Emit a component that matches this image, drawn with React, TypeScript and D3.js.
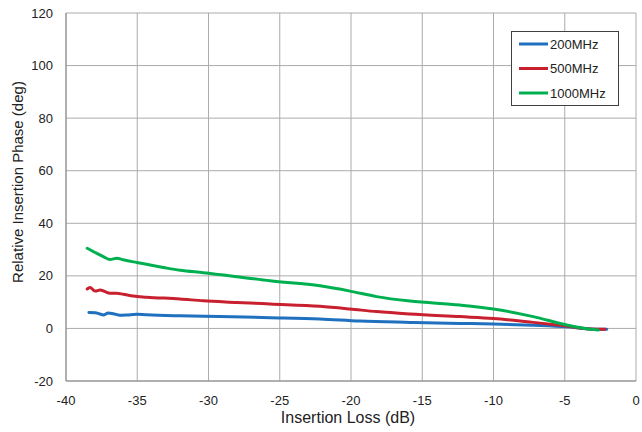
import React from "react";
import * as d3 from "d3";

const xTicks = [-40, -35, -30, -25, -20, -15, -10, -5, 0];
const yTicks = [-20, 0, 20, 40, 60, 80, 100, 120];
const seriesNames = ["200MHz", "500MHz", "1000MHz"];
const seriesColors = ["#1f70bf", "#c8202f", "#00b050"];

const x200 = [-38.39, -37.96, -37.61, -37.38, -37.03, -36.68, -36.21, -35.74, -35.04, -34.34, -32.0, -29.19, -25.68, -22.18, -19.37, -15.86, -12.35, -10.01, -7.21, -4.86, -3.23, -2.05];
const y200 = [6.1, 6.0, 5.5, 5.1, 5.9, 5.6, 5.0, 5.1, 5.4, 5.2, 4.8, 4.5, 4.1, 3.6, 2.8, 2.3, 1.9, 1.7, 1.2, 0.6, -0.2, -0.3];

const x500 = [-38.51, -38.32, -37.96, -37.61, -37.26, -36.91, -36.44, -35.98, -35.28, -34.34, -32.0, -30.36, -28.02, -25.68, -22.18, -20.07, -18.2, -15.86, -12.35, -10.01, -7.21, -4.86, -3.23, -2.18];
const y500 = [15.0, 15.6, 14.2, 14.6, 14.0, 13.4, 13.4, 13.0, 12.3, 11.9, 11.2, 10.5, 9.9, 9.3, 8.4, 7.4, 6.4, 5.5, 4.5, 3.8, 2.3, 0.9, -0.2, -0.3];

const x1000 = [-38.51, -37.96, -37.38, -36.91, -36.44, -35.98, -35.04, -34.34, -33.17, -32.0, -30.36, -28.02, -25.68, -22.18, -20.07, -18.2, -15.86, -12.35, -10.01, -7.21, -4.86, -3.23, -2.65];
const y1000 = [30.5, 28.9, 27.3, 26.2, 26.7, 26.1, 25.1, 24.4, 23.2, 22.1, 21.2, 19.7, 18.1, 16.2, 14.2, 12.1, 10.4, 8.9, 7.4, 4.5, 1.3, -0.3, -0.6];

const seriesX = [x200, x500, x1000];
const seriesY = [y200, y500, y1000];

const W = 642;
const H = 432;
const left = 66;
const right = 636;
const top = 13;
const bottom = 381;

export default function App() {
  const xs = d3.scaleLinear().domain([-40, 0]).range([left, right]);
  const ys = d3.scaleLinear().domain([-20, 120]).range([bottom, top]);
  const line = d3
    .line<[number, number]>()
    .x((d) => xs(d[0]))
    .y((d) => ys(d[1]))
    .curve(d3.curveMonotoneX);
  const font = "'Liberation Sans', Arial, sans-serif";
  return (
    <svg
      width={W}
      height={H}
      style={{ position: "absolute", left: 0, top: 0, background: "#fff" }}
      fontFamily={font}
    >
      <rect x={0} y={0} width={W} height={H} fill="#fff" />
      {xTicks.map((t) => (
        <line key={"gx" + t} x1={xs(t)} x2={xs(t)} y1={top} y2={bottom} stroke="#ababab" strokeWidth={1} />
      ))}
      {yTicks.map((t) => (
        <line key={"gy" + t} x1={left} x2={right} y1={ys(t)} y2={ys(t)} stroke="#ababab" strokeWidth={1} />
      ))}
      <line x1={left} x2={left} y1={top} y2={bottom} stroke="#8a8a8a" strokeWidth={1} />
      <line x1={left} x2={right} y1={bottom} y2={bottom} stroke="#8a8a8a" strokeWidth={1} />
      {yTicks.map((t) => (
        <text key={"ly" + t} x={53} y={ys(t) + 4.5} textAnchor="end" fontSize={13} fill="#222">
          {t}
        </text>
      ))}
      {xTicks.map((t) => (
        <text key={"lx" + t} x={xs(t)} y={404.5} textAnchor="middle" fontSize={13} fill="#222">
          {t}
        </text>
      ))}
      <text x={348} y={422.5} textAnchor="middle" fontSize={16} fill="#222">
        Insertion Loss (dB)
      </text>
      <text
        transform={`translate(23,182) rotate(-90)`}
        textAnchor="middle"
        fontSize={15}
        fill="#222"
      >
        Relative Insertion Phase (deg)
      </text>
      {seriesX.map((xsArr, i) => (
        <path
          key={"s" + i}
          d={line(xsArr.map((v, j) => [v, seriesY[i][j]] as [number, number])) || ""}
          fill="none"
          stroke={seriesColors[i]}
          strokeWidth={3}
          strokeLinejoin="round"
          strokeLinecap="round"
        />
      ))}
      <rect x={511.5} y={31.5} width={107} height={74} fill="#fff" stroke="#404040" strokeWidth={1} />
      {seriesNames.map((n, i) => (
        <g key={"lg" + i}>
          <line x1={519} x2={548} y1={44 + i * 24.5} y2={44 + i * 24.5} stroke={seriesColors[i]} strokeWidth={3} />
          <text x={550} y={44 + i * 24.5 + 4.5} fontSize={13} fill="#222">
            {n}
          </text>
        </g>
      ))}
    </svg>
  );
}
